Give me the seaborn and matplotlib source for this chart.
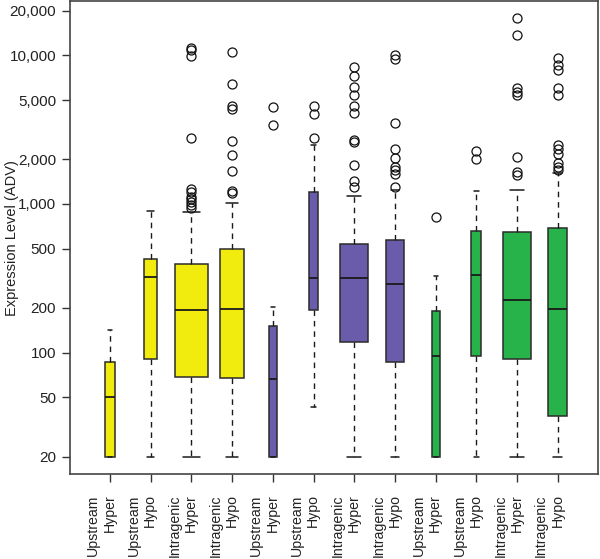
import matplotlib
matplotlib.use('Agg')
import matplotlib.pyplot as plt
import matplotlib.transforms as mtransforms
import seaborn as sns

# values (log scale, ADV)
regions = ['Upstream', 'Upstream', 'Intragenic', 'Intragenic'] * 3
states = ['Hyper', 'Hypo', 'Hyper', 'Hypo'] * 3
whisker_low = [20, 20, 20, 20, 20, 43.2, 20, 20, 20, 20, 20, 20]
q1 = [20, 90, 68.7, 67.6, 20, 194, 118.6, 87, 20, 94.6, 91.2, 37.5]
median = [50.6, 321, 194, 196, 66.5, 316, 316, 291, 94.6, 332, 226, 196]
q3 = [86, 425, 397, 496, 151, 1210, 536, 573, 192, 658, 648, 693]
whisker_high = [142, 902, 890, 1012, 204, 2494, 1137, 1250, 328, 1217, 1243, 1608]
outliers = [
    [],
    [],
    [11150, 10860, 9940, 2767, 1261, 1204, 1119, 1076, 1031, 984, 944],
    [10520, 6410, 4560, 4375, 2666, 2136, 1675, 1228, 1180],
    [4490, 3413],
    [4560, 4050, 2778],
    [8300, 7260, 6150, 5430, 4560, 4075, 2693, 2612, 1832, 1429, 1307],
    [10050, 9400, 3490, 2354, 2028, 1782, 1693, 1592, 1310],
    [822],
    [2282, 1995],
    [17740, 13700, 6000, 5690, 5410, 2080, 1650, 1567],
    [9550, 8610, 7970, 6000, 5410, 2493, 2333, 2169, 1879, 1782, 1693],
]

# box widths (varwidth look) and colours
box_widths = [0.23, 0.31, 0.80, 0.59, 0.20, 0.24, 0.69, 0.43, 0.19, 0.25, 0.67, 0.46]
group_colors = ['#F2EC0E'] * 4 + ['#6B5BAB'] * 4 + ['#27B34A'] * 4

sns.set_style('ticks')
plt.rcParams['font.family'] = ['Liberation Sans', 'DejaVu Sans']

fig = plt.figure(figsize=(6, 5.59), dpi=100)
ax = fig.add_axes([0.1167, 0.1515, 0.8795, 0.8467])

stats = []
for i in range(len(median)):
    stats.append({
        'whislo': whisker_low[i], 'q1': q1[i], 'med': median[i],
        'q3': q3[i], 'whishi': whisker_high[i], 'fliers': outliers[i],
    })

positions = list(range(1, len(median) + 1))
bp = ax.bxp(
    stats, positions=positions, widths=box_widths,
    capwidths=[w / 2 for w in box_widths],
    patch_artist=True, showfliers=True,
    boxprops=dict(edgecolor='#2b2b2b', linewidth=1.1),
    medianprops=dict(color='#1a1a1a', linewidth=1.3),
    whiskerprops=dict(color='#1a1a1a', linewidth=1.0, linestyle=(0, (4, 3.5))),
    capprops=dict(color='#1a1a1a', linewidth=1.1),
    flierprops=dict(marker='o', markerfacecolor='none', markeredgecolor='#111111',
                    markersize=6.5, markeredgewidth=0.9, linestyle='none'),
)
for patch, col in zip(bp['boxes'], group_colors):
    patch.set_facecolor(col)

ax.set_yscale('log')
ax.set_ylim(15.2, 23190)
ax.set_xlim(0.02, 12.98)

yticks = [20, 50, 100, 200, 500, 1000, 2000, 5000, 10000, 20000]
ax.set_yticks(yticks)
ax.set_yticklabels([f'{v:,}' for v in yticks])
ax.yaxis.set_minor_locator(matplotlib.ticker.NullLocator())

# x tick labels: two rotated lines, second line centred on the tick
ax.set_xticks(positions)
ax.set_xticklabels([])
shift = mtransforms.ScaledTranslation(-8.5 / 100, -20 / 100, fig.dpi_scale_trans)
trans = ax.get_xaxis_transform() + shift
for pos, r, s in zip(positions, regions, states):
    ax.text(pos, 0, f'{r}\n{s}', transform=trans, rotation=90, va='top', ha='center',
            multialignment='right', linespacing=1.2, fontsize=10.2, color='#222222',
            clip_on=False)

ax.tick_params(axis='both', direction='out', length=6, width=1.0, color='#333333',
               labelsize=11, labelcolor='#222222')
ax.tick_params(axis='y', pad=4)

for sp in ax.spines.values():
    sp.set_visible(True)
    sp.set_color('#444444')
    sp.set_linewidth(1.2)

ax.set_ylabel('Expression Level (ADV)', fontsize=10.5, color='#222222')
ax.yaxis.set_label_coords(-0.097, 0.5)
ax.grid(False)

fig.savefig('out.png', dpi=100)
